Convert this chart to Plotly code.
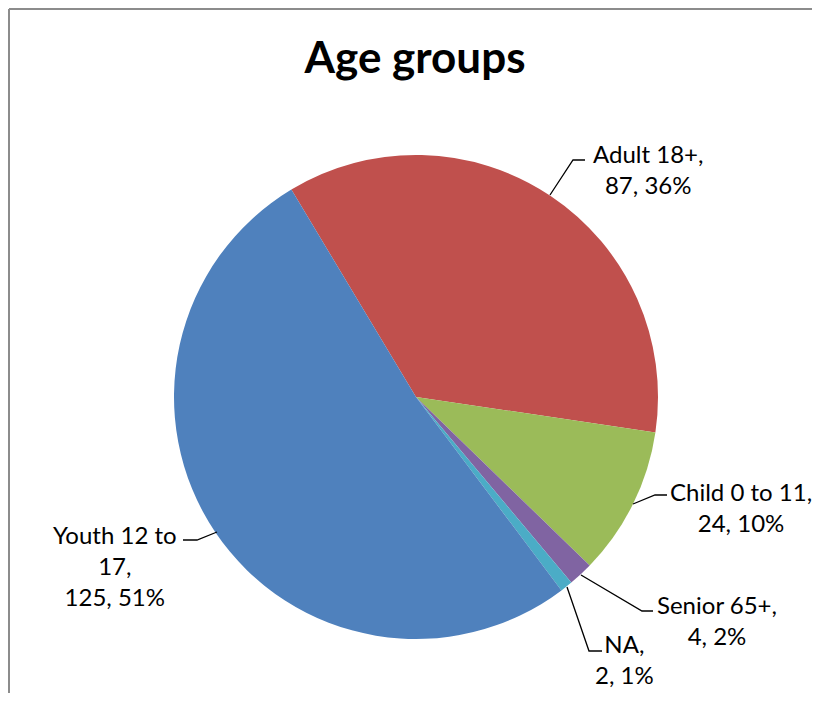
import plotly.graph_objects as go

# data
labels = ["Adult 18+", "Child 0 to 11", "Senior 65+", "NA", "Youth 12 to 17"]
values = [87, 24, 4, 2, 125]
percents = [36, 10, 2, 1, 51]
colors = ["#C0504D", "#9BBB59", "#8064A2", "#4BACC6", "#4F81BD"]
label_text = ["Adult 18+,", "Child 0 to 11,", "Senior 65+,", "NA,", "Youth 12 to<br>17,"]

OFF = 8  # page body margin
W, H = 820 - 2 * OFF, 701 - 2 * OFF


def px(x):
    return (x - OFF) / W


def py(y):
    return 1 - (y - OFF) / H


fig = go.Figure()
fig.add_trace(go.Pie(
    labels=labels, values=values, sort=False, direction="clockwise",
    rotation=-31, marker=dict(colors=colors, line=dict(width=0)),
    textinfo="none", hoverinfo="label+value+percent", showlegend=False,
    domain=dict(x=[px(174), px(658)], y=[py(639), py(155)]),
))

# label centers and leader lines (page pixels)
label_pos = [(648, 169), (741, 507), (717, 620), (624, 659), (115, 565)]
leaders = [
    [(550, 195), (573, 160), (585, 160)],
    [(633, 504), (655, 495), (667, 495)],
    [(581, 575), (642, 611), (653, 611)],
    [(567, 587), (589, 651), (602, 651)],
    [(217, 532), (197, 540), (183, 540)],
]

for i, (cx, cy) in enumerate(label_pos):
    fig.add_annotation(
        x=px(cx), y=py(cy), xref="paper", yref="paper", xanchor="center", yanchor="middle",
        text="%s<br>%d, %d%%" % (label_text[i], values[i], percents[i]),
        showarrow=False, align="center",
        font=dict(family="Lato", size=24, color="#000000"),
    )
    pts = leaders[i]
    path = "M " + " L ".join("%f,%f" % (px(x), py(y)) for x, y in pts)
    fig.add_shape(type="path", path=path, xref="paper", yref="paper",
                  line=dict(color="#000000", width=1.3))

# chart border (left and top only are visible)
fig.add_shape(type="line", xref="paper", yref="paper",
              x0=px(9), y0=0, x1=px(9), y1=py(9),
              line=dict(color="#8c8c8c", width=2))
fig.add_shape(type="line", xref="paper", yref="paper",
              x0=px(9), y0=py(9), x1=1, y1=py(9),
              line=dict(color="#8c8c8c", width=2))

fig.update_layout(
    width=W, height=H,
    margin=dict(l=0, r=0, t=0, b=0),
    paper_bgcolor="white", plot_bgcolor="white",
    title=dict(text="<b>Age groups</b>", x=px(415), xanchor="center",
               y=py(58), yanchor="middle",
               font=dict(family="Lato", size=44, color="#000000")),
)

fig.write_html("out.html")
